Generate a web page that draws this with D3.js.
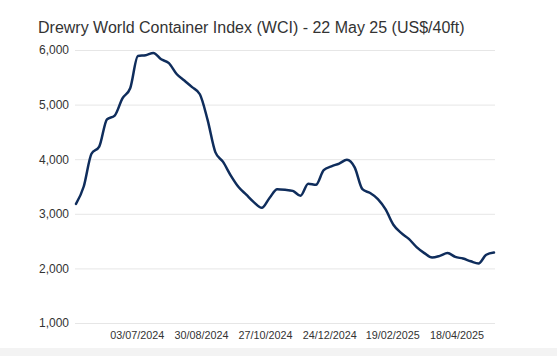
<!DOCTYPE html>
<html><head><meta charset="utf-8">
<script src="https://cdn.jsdelivr.net/npm/d3@7"></script>
<style>body{margin:0;background:#fff;}svg{display:block;font-family:"Liberation Sans",Arial,sans-serif;}</style>
</head><body><svg id="c" width="557" height="356"></svg>
<script>
const title = "Drewry World Container Index (WCI) - 22 May 25 (US$/40ft)";
const startDate = "2024-05-09";
const values = [3180,3500,4100,4230,4730,4800,5115,5300,5890,5905,5945,5830,5760,5560,5440,5320,5190,4720,4130,3950,3700,3490,3350,3210,3110,3290,3450,3440,3420,3330,3550,3530,3800,3870,3920,3990,3850,3450,3380,3270,3080,2800,2650,2540,2390,2280,2200,2230,2280,2210,2180,2130,2090,2250,2290];
const xTickLabels = ["03/07/2024","30/08/2024","27/10/2024","24/12/2024","19/02/2025","18/04/2025"];
const yTicks = [1000,2000,3000,4000,5000,6000];

const parse = d3.timeParse("%Y-%m-%d");
const parseTick = d3.timeParse("%d/%m/%Y");
const t0 = parse(startDate);
const data = values.map((v,i)=>({date:d3.timeDay.offset(t0, i*7), v}));

const svg = d3.select("#c");
const x = d3.scaleTime().domain([data[0].date, data[data.length-1].date]).range([76,494]);
const y = d3.scaleLinear().domain([1000,6000]).range([323,50]);

svg.append("rect").attr("x",0).attr("y",348).attr("width",557).attr("height",8).attr("fill","#f3f3f3");

svg.append("text").attr("x",38).attr("y",33).attr("font-size",16).attr("fill","#333").text(title);

const yAxis = svg.append("g").attr("transform","translate(75,0)")
  .call(d3.axisLeft(y).tickValues(yTicks).tickSize(-420).tickPadding(6).tickFormat(d3.format(",")));
yAxis.select(".domain").remove();
yAxis.selectAll("line").attr("stroke","#e6e6e6");
yAxis.selectAll("text").attr("font-size",12).attr("fill","#333").attr("font-family","Liberation Sans, Arial, sans-serif");

const xAxis = svg.append("g").attr("transform","translate(0,323)")
  .call(d3.axisBottom(x).tickValues(xTickLabels.map(parseTick)).tickSize(0).tickPadding(8).tickFormat(d3.timeFormat("%d/%m/%Y")));
xAxis.select(".domain").remove();
xAxis.selectAll("text").attr("font-size",10.8).attr("fill","#333").attr("font-family","Liberation Sans, Arial, sans-serif");

svg.append("path").datum(data)
  .attr("fill","none").attr("stroke","#0f2d5c").attr("stroke-width",2.5).attr("stroke-linejoin","round").attr("stroke-linecap","round")
  .attr("d", d3.line().x(d=>x(d.date)).y(d=>y(d.v)).curve(d3.curveMonotoneX));
</script></body></html>
